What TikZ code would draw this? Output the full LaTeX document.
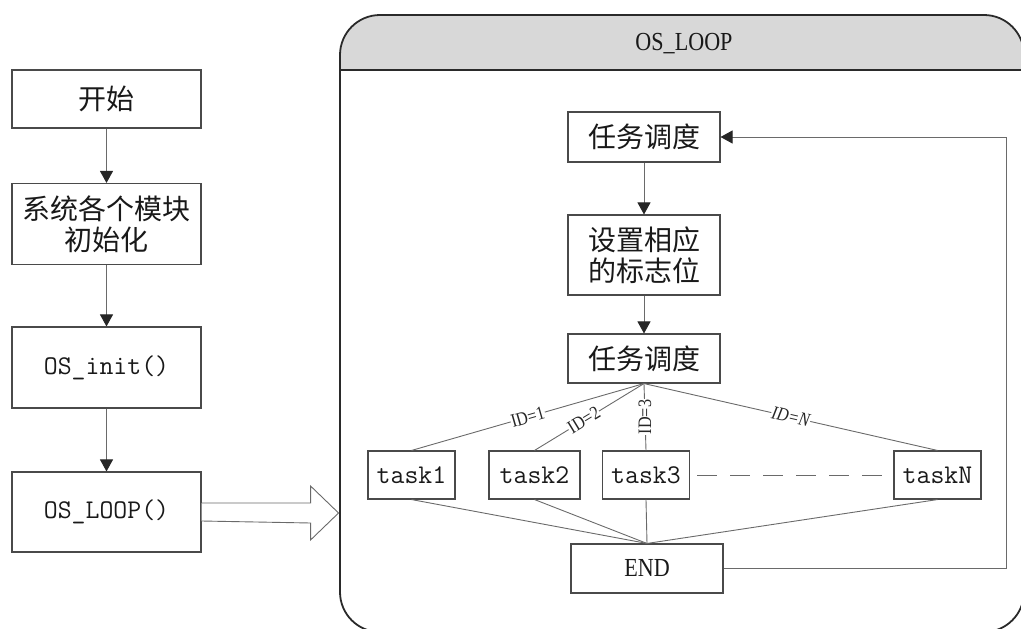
\documentclass[tikz,border=0pt]{standalone}
\usepackage{fontspec}
\setmainfont{Liberation Serif}
\newfontfamily\cjk{Noto Sans CJK SC}
\newfontfamily\narrowserif[FakeStretch=0.85]{Liberation Serif}
\usetikzlibrary{arrows.meta,calc}
\definecolor{boxc}{HTML}{4A4A4A}
\definecolor{linec}{HTML}{6A6A6A}
\definecolor{headgray}{HTML}{D8D8D8}
\definecolor{panelc}{HTML}{2A2A2A}
\tikzset{
  box/.style={draw=boxc, line width=1.1pt, inner sep=0pt, align=center, fill=white, text=black!90},
  bigbox/.style={box, minimum width=189pt},
  loopbox/.style={box, minimum width=152pt},
  taskbox/.style={box, minimum height=48pt, font=\ttfamily\fontsize{27}{29}\selectfont},
  cn/.style={font=\cjk\fontsize{28}{31}\selectfont},
  code/.style={font=\ttfamily\fontsize{27}{29}\selectfont},
  conn/.style={draw=linec, line width=0.9pt},
  arr/.style={conn, -{Triangle[length=12pt,width=13pt,color=black!85]}},
  idtext/.style={font=\narrowserif\fontsize{19}{20}\selectfont, fill=white, inner sep=0.5pt, text=black!85},
  idlab/.style={idtext, sloped, pos=0.5}
}
\begin{document}
\begin{tikzpicture}[x=1pt,y=-1pt]
\useasboundingbox (0,0) rectangle (1021,629);

% outer loop panel with shaded title band
\begin{scope}
  \clip[rounded corners=40pt] (340,15) rectangle (1024,632);
  \fill[headgray] (340,15) rectangle (1024,70);
\end{scope}
\draw[panelc, line width=1.8pt, rounded corners=40pt] (340,15) rectangle (1024,632);
\draw[panelc, line width=1.8pt] (340,70) -- (1024,70);
\node[font=\narrowserif\fontsize{26}{28}\selectfont, text=black!90] (title) at (684,44) {OS\_LOOP};

% main sequence
\node[bigbox, cn, minimum height=58pt] (start) at (106.5,99) {开始};
\node[bigbox, cn, minimum height=81pt] (init) at (106.5,224) {系统各个模块\\初始化};
\node[bigbox, code, minimum height=81pt] (osinit) at (106.5,367.5) {OS\_init()};
\node[bigbox, code, minimum height=80pt] (osloop) at (106.5,512) {OS\_LOOP()};

\draw[arr] (start) -- (init);
\draw[arr] (init) -- (osinit);
\draw[arr] (osinit) -- (osloop);

% hollow arrow into the loop
\draw[linec, line width=0.9pt, fill=white]
  ($(osloop.east)+(0,-9)$) -- ++(109,0) -- ++(0,-17) -- ++(28,27)
  -- ++(-28,27) -- ++(0,-17) -- ($(osloop.east)+(0,9)$);

% loop body
\node[loopbox, cn, minimum height=50pt] (sched1) at (644,137) {任务调度};
\node[loopbox, cn, minimum height=80pt] (flag) at (644,255) {设置相应\\的标志位};
\node[loopbox, cn, minimum height=49pt] (sched2) at (644,358.5) {任务调度};

\draw[arr] (sched1) -- (flag);
\draw[arr] (flag) -- (sched2);

\node[taskbox, minimum width=87pt] (t1) at (411.5,475) {task1};
\node[taskbox, minimum width=91pt] (t2) at (534.5,475) {task2};
\node[taskbox, minimum width=87pt] (t3) at (646,475) {task3};
\node[taskbox, minimum width=87pt] (tN) at (937.5,475) {taskN};

\node[loopbox, minimum height=49pt, font=\narrowserif\fontsize{26}{28}\selectfont] (endn) at (647,568.5) {END};

% dispatch branches
\draw[conn] (sched2.south) -- (t1.north) node[idlab] {ID=1};
\draw[conn] (sched2.south) -- (t2.north) node[idlab, pos=0.55] {ID=2};
\draw[conn] (sched2.south) -- (t3.north) node[idtext, pos=0.5, rotate=90] {ID=3};
\draw[conn] (sched2.south) -- (tN.north) node[idlab, font=\narrowserif\itshape\fontsize{19}{20}\selectfont] {ID=N};

\draw[conn, dash pattern=on 20pt off 13pt, shorten <=7pt, shorten >=6pt] (t3.east) -- (tN.west);

% branches rejoin
\draw[conn] (t1.south) -- (endn.north);
\draw[conn] (t2.south) -- (endn.north);
\draw[conn] (t3.south) -- (endn.north);
\draw[conn] (tN.south) -- (endn.north);

% return path
\coordinate (fb) at (1006,300);
\draw[conn, -{Triangle[length=12pt,width=13pt,color=black!85]}]
  (endn.east) -- (endn.east -| fb) -- (sched1.east -| fb) -- (sched1.east);
\end{tikzpicture}
\end{document}
